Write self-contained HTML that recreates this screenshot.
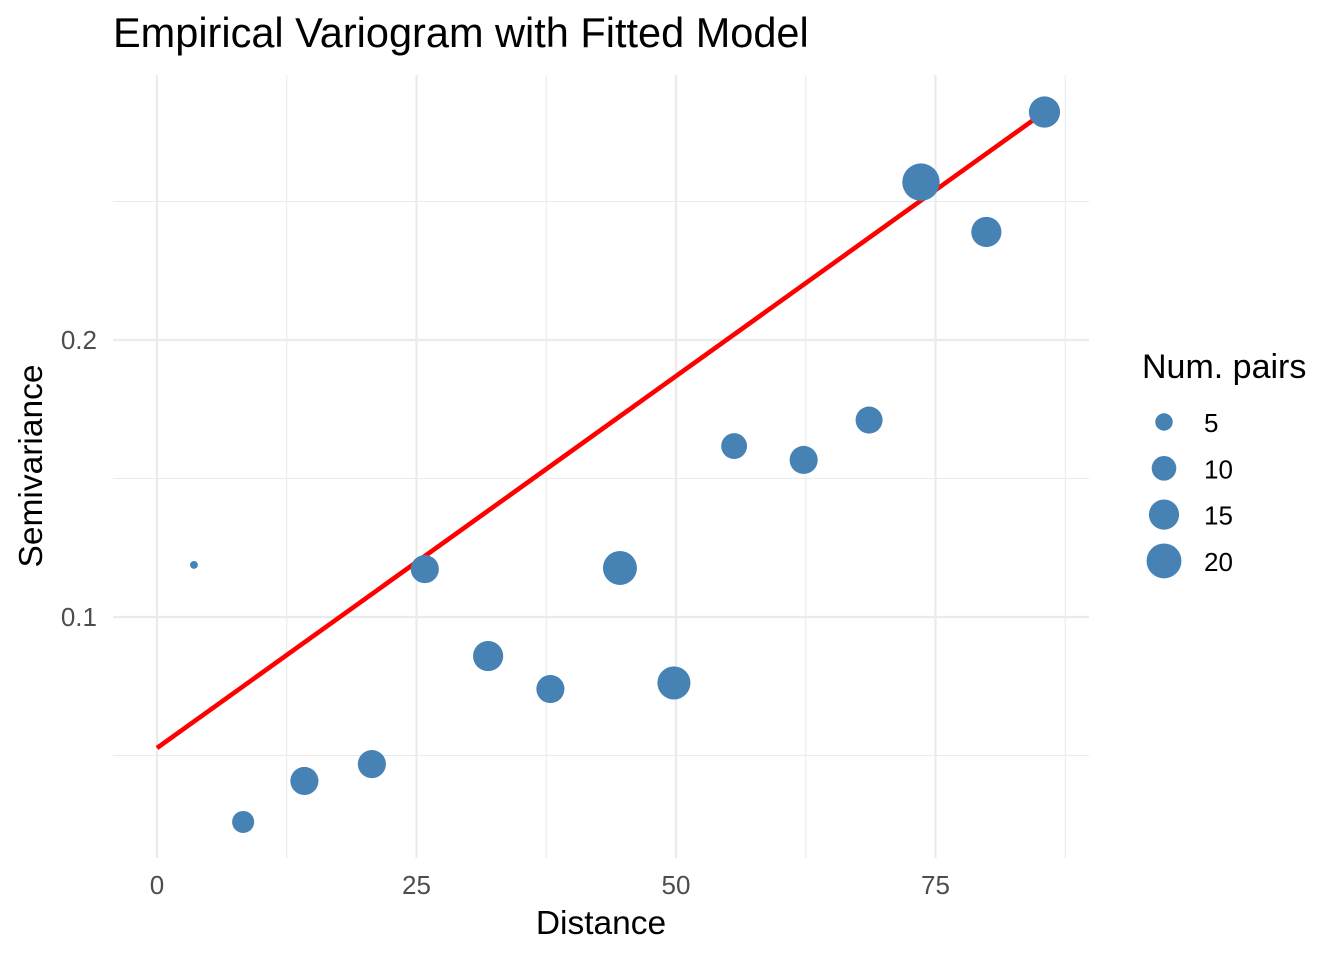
<!DOCTYPE html>
<html><head><meta charset="utf-8"><style>
body{margin:0;background:#fff;}
svg text{font-family:"Liberation Sans",sans-serif;}
</style></head><body>
<svg id="chart" width="1344" height="960" xmlns="http://www.w3.org/2000/svg">
<text x="113" y="47" font-size="41.5" fill="#000">Empirical Variogram with Fitted Model</text>
<g id="grid"></g>
<g id="line"></g>
<g id="pts"></g>
<g id="axes"></g>
<text x="601" y="934" font-size="33.5" text-anchor="middle" fill="#000">Distance</text>
<text transform="translate(42,466) rotate(-90)" font-size="33.5" text-anchor="middle" fill="#000">Semivariance</text>
<g id="legend">
<text x="1142" y="378" font-size="34" fill="#000">Num. pairs</text>
</g>
</svg>
<script>
const dist=[3.56,8.3,14.2,20.7,25.8,31.9,37.9,44.6,49.8,55.6,62.3,68.6,73.6,79.9,85.5];
const gamma=[0.1188,0.026,0.0408,0.0469,0.1173,0.0859,0.074,0.1177,0.0762,0.1617,0.1567,0.1711,0.257,0.239,0.2823];
const npairs=[1,8,13,13,13,15,13,19,18,11,13,12,23,15,16];
const fitX=[0,85.5];
const fitY=[0.0527,0.2823];
const xTicks=[0,25,50,75];
const xMinor=[12.5,37.5,62.5,87.5];
const yTicks=[0.1,0.2];
const yMinor=[0.05,0.15,0.25];
const legendN=[5,10,15,20];
const NS="http://www.w3.org/2000/svg";
const X=v=>157+v*10.38;
const Y=v=>617-(v-0.1)*2770;
const R=n=>3.9*Math.sqrt(n);
const L=113,Rt=1089,T=75,B=858;
function mk(tag,attrs,parent){const e=document.createElementNS(NS,tag);for(const k in attrs)e.setAttribute(k,attrs[k]);document.getElementById(parent).appendChild(e);return e;}
xMinor.forEach(v=>{const e=mk('line',{x1:X(v),x2:X(v),y1:T,y2:B,stroke:'#ebebeb','stroke-width':1.1},'grid');

});
yMinor.forEach(v=>{const e=mk('line',{x1:L,x2:Rt,y1:Y(v),y2:Y(v),stroke:'#ebebeb','stroke-width':1.1},'grid');

});
xTicks.forEach(v=>{const e=mk('line',{x1:X(v),x2:X(v),y1:T,y2:B,stroke:'#ebebeb','stroke-width':2.2},'grid');


const t=mk('text',{x:X(v),y:894,'font-size':26,'text-anchor':'middle',fill:'#4d4d4d'},'axes');t.textContent=v;

});
yTicks.forEach(v=>{const e=mk('line',{x1:L,x2:Rt,y1:Y(v),y2:Y(v),stroke:'#ebebeb','stroke-width':2.2},'grid');


const t=mk('text',{x:97,y:Y(v)+9,'font-size':26,'text-anchor':'end',fill:'#4d4d4d'},'axes');t.textContent=v;

});
const ln=mk('line',{x1:X(fitX[0]),y1:Y(fitY[0]),x2:X(fitX[1]),y2:Y(fitY[1]),stroke:'#ff0000','stroke-width':4.6},'line');


dist.forEach((d,i)=>{const c=mk('circle',{cx:X(d),cy:Y(gamma[i]),r:R(npairs[i]),fill:'#4682b4'},'pts');

});
legendN.forEach((n,i)=>{const y=422+i*46.3;
const c=mk('circle',{cx:1164,cy:y,r:R(n),fill:'#4682b4'},'legend');


const t=mk('text',{x:1204,y:y+10,'font-size':26,fill:'#000'},'legend');t.textContent=n;

});
</script>
</body></html>
